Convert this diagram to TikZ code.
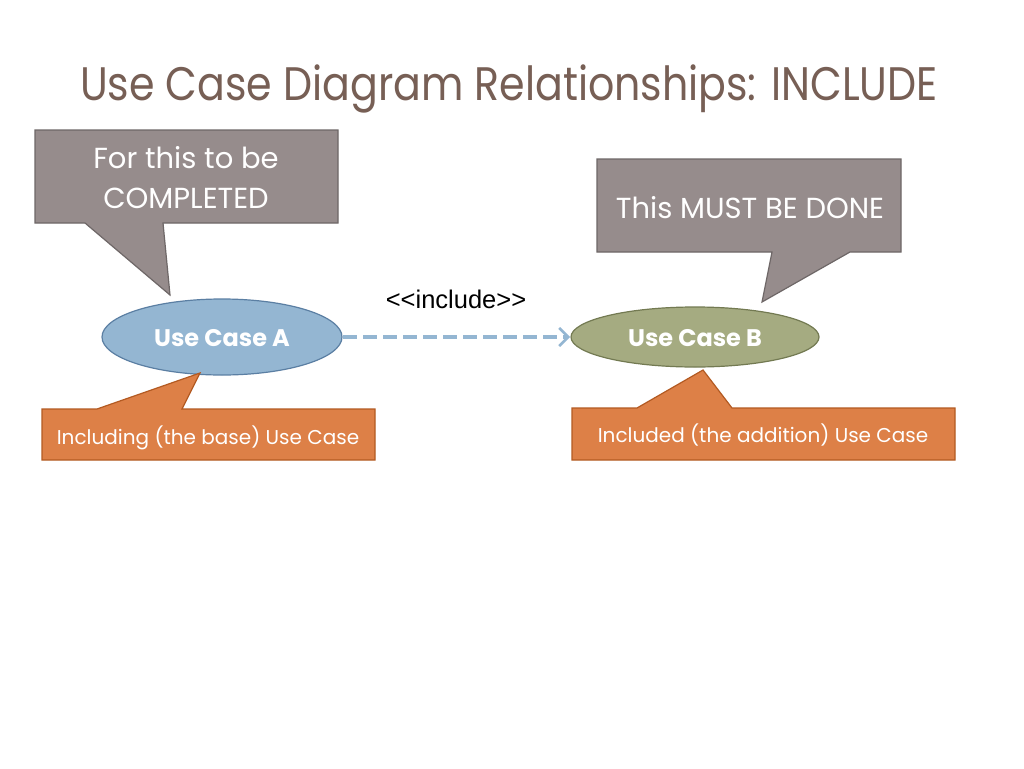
\documentclass[tikz,border=0pt]{standalone}
\usepackage{fontspec}
\setmainfont{Poppins}
\newfontfamily\titlefont{Poppins}[FakeStretch=0.875]
\newfontfamily\arialfont{Liberation Sans}
\usetikzlibrary{arrows.meta}
\definecolor{titlecol}{HTML}{775F55}
\definecolor{grayfill}{HTML}{968C8C}
\definecolor{grayline}{HTML}{6E6767}
\definecolor{bluefill}{HTML}{94B6D2}
\definecolor{blueline}{HTML}{5B7FA3}
\definecolor{olivefill}{HTML}{A5AB81}
\definecolor{oliveline}{HTML}{737A52}
\definecolor{orangefill}{HTML}{DD8047}
\definecolor{orangeline}{HTML}{B35A22}
\tikzset{
  graycall/.style={fill=grayfill, draw=grayline, line width=1.2pt, line join=miter},
  orangecall/.style={fill=orangefill, draw=orangeline, line width=1.2pt, line join=miter},
  calltext/.style={text=white, font=\fontsize{29}{40}\selectfont, align=center, inner sep=0pt},
  smalltext/.style={text=white, font=\fontsize{20}{24}\selectfont, inner sep=0pt},
  usecase/.style={text=white, font=\bfseries\fontsize{24}{28}\selectfont, inner sep=0pt},
}
\begin{document}
\begin{tikzpicture}[x=1pt,y=-1pt]
\useasboundingbox[fill=white] (0,0) rectangle (1024,768);
% title
\node[anchor=base west, inner sep=0pt, text=titlecol, font=\titlefont\fontsize{47}{56}\selectfont] (title) at (80,100) {Use Case Diagram Relationships: INCLUDE};
% gray callout 1
\draw[graycall] (35,130) -- (338,130) -- (338,223) -- (163,223) -- (170,295) -- (85,223) -- (35,223) -- cycle;
\node[calltext] (c1) at (186,178) {For this to be\\COMPLETED};
% gray callout 2
\draw[graycall] (597,159) -- (901,159) -- (901,252) -- (850,252) -- (762,302) -- (772,252) -- (597,252) -- cycle;
\node[calltext, anchor=base] (c2) at (750,218) {This MUST BE DONE};
% use cases
\draw[fill=bluefill, draw=blueline, line width=1.2pt] (222,337) ellipse [x radius=120, y radius=38];
\node[usecase] (ucA) at (222,338) {Use Case A};
\draw[fill=olivefill, draw=oliveline, line width=1.2pt] (695,337) ellipse [x radius=124, y radius=30];
\node[usecase] (ucB) at (695,338) {Use Case B};
\coordinate (aE) at (343,337);
\coordinate (bW) at (570,337);
\draw[bluefill, line width=3.2pt, dash pattern=on 14pt off 6pt, -{Straight Barb[length=9pt, width=18pt, line width=2.5pt]}] (aE) -- (bW);
\node[font=\arialfont\fontsize{25.5}{30}\selectfont, inner sep=0pt, anchor=base] (inc) at (456,308) {<{}<include>{}>};
% orange callout A
\draw[orangecall] (42,409) -- (97,409) -- (200,373) -- (182,409) -- (375,409) -- (375,460) -- (42,460) -- cycle;
\node[smalltext, anchor=base] (oA) at (208,444) {Including (the base) Use Case};
% orange callout B
\draw[orangecall] (572,408) -- (637,408) -- (703,370) -- (732,408) -- (955,408) -- (955,460) -- (572,460) -- cycle;
\node[smalltext, anchor=base] (oB) at (763,442) {Included (the addition) Use Case};
\end{tikzpicture}
\end{document}
